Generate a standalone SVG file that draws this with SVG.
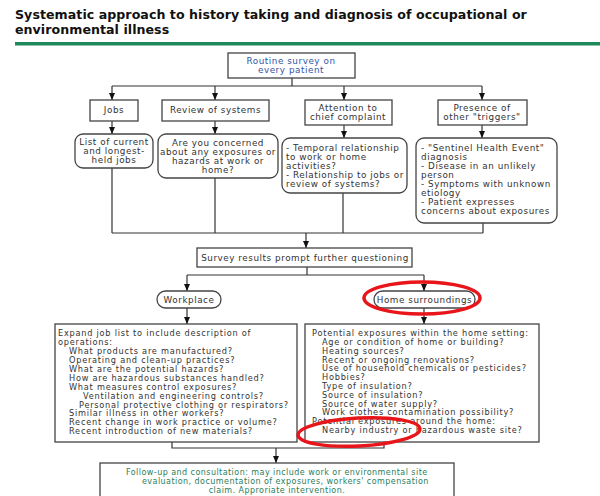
<svg xmlns="http://www.w3.org/2000/svg" width="600" height="496" viewBox="0 0 600 496">
<defs>
<marker id="ah" markerWidth="7" markerHeight="6" refX="7" refY="3" orient="auto" markerUnits="userSpaceOnUse" viewBox="0 0 7 6">
<path d="M0,0 L7,3 L0,6 Z" fill="#111"/>
</marker>
<style>
text{font-family:"DejaVu Sans","Verdana",sans-serif;fill:#333}
.t{font-size:12.6px;font-weight:bold;fill:#111;letter-spacing:0.05px}
.b{font-size:8.8px;letter-spacing:0.55px}
.s{font-size:8.2px;letter-spacing:0.76px}
.f{font-size:8px;letter-spacing:0.45px}
.c{text-anchor:middle}
.box{fill:#fff;stroke:#444;stroke-width:1.3}
.ln{fill:none;stroke:#333;stroke-width:1.2}
.red{fill:none;stroke:#e8161b;stroke-width:3.5}
.blue{fill:#3355a8}
.grn{fill:#2b7d5c}
</style>
</defs>
<rect width="600" height="496" fill="#fff"/>
<g id="title">
<text class="t" x="15" y="19">Systematic approach to history taking and diagnosis of occupational or</text>
<text class="t" x="15" y="34">environmental illness</text>
<rect x="15" y="42" width="585" height="3.5" fill="#1e8a5c"/>
</g>
<g id="connectors">
<path class="ln" d="M292,78 V86 M112,86 H482"/>
<path class="ln" d="M112,86 V100" marker-end="url(#ah)"/>
<path class="ln" d="M215,86 V100" marker-end="url(#ah)"/>
<path class="ln" d="M344,86 V100" marker-end="url(#ah)"/>
<path class="ln" d="M482,86 V100" marker-end="url(#ah)"/>
<path class="ln" d="M112,121 V134" marker-end="url(#ah)"/>
<path class="ln" d="M215,121 V134" marker-end="url(#ah)"/>
<path class="ln" d="M344,125 V138" marker-end="url(#ah)"/>
<path class="ln" d="M482,125 V138" marker-end="url(#ah)"/>
<path class="ln" d="M112,168 V233 M215,178 V233 M343,193 V233 M483,223 V233 M112,233 H483"/>
<path class="ln" d="M306,233 V248" marker-end="url(#ah)"/>
<path class="ln" d="M307,267 V275 M187,275 H424"/>
<path class="ln" d="M187,275 V291" marker-end="url(#ah)"/>
<path class="ln" d="M424,275 V291" marker-end="url(#ah)"/>
<path class="ln" d="M187,308 V324" marker-end="url(#ah)"/>
<path class="ln" d="M424,308 V324" marker-end="url(#ah)"/>
<path class="ln" d="M172,442 V448 H384 V442"/>
<path class="ln" d="M276,448 V463" marker-end="url(#ah)"/>
</g>
<g id="routine">
<rect class="box" x="228" y="53" width="127" height="25"/>
<text class="b c blue" x="291" y="64">Routine survey on</text>
<text class="b c blue" x="291" y="73">every patient</text>
</g>
<g id="jobs">
<rect class="box" x="90" y="100" width="48" height="21"/>
<text class="b c" x="114" y="113">Jobs</text>
</g>
<g id="review">
<rect class="box" x="162" y="100" width="107" height="21"/>
<text class="b c" x="215.5" y="113">Review of systems</text>
</g>
<g id="attention">
<rect class="box" x="305" y="100" width="87" height="25"/>
<text class="b c" x="348" y="111">Attention to</text>
<text class="b c" x="348" y="120">chief complaint</text>
</g>
<g id="presence">
<rect class="box" x="438" y="100" width="89" height="25"/>
<text class="b c" x="482" y="111">Presence of</text>
<text class="b c" x="482" y="120">other "triggers"</text>
</g>
<g id="list">
<rect class="box" x="75" y="134" width="78" height="34" rx="8"/>
<text class="b c" x="114" y="145">List of current</text>
<text class="b c" x="114" y="154">and longest-</text>
<text class="b c" x="114" y="163">held jobs</text>
</g>
<g id="concerned">
<rect class="box" x="158" y="134" width="120" height="44" rx="8"/>
<text class="b c" x="218" y="146">Are you concerned</text>
<text class="b c" x="218" y="155">about any exposures or</text>
<text class="b c" x="218" y="164">hazards at work or</text>
<text class="b c" x="218" y="173">home?</text>
</g>
<g id="temporal">
<rect class="box" x="282" y="138" width="125" height="55" rx="8"/>
<text class="b" x="286" y="151">- Temporal relationship</text>
<text class="b" x="286" y="160">to work or home</text>
<text class="b" x="286" y="169">activities?</text>
<text class="b" x="286" y="178">- Relationship to jobs or</text>
<text class="b" x="286" y="187">review of systems?</text>
</g>
<g id="sentinel">
<rect class="box" x="416" y="138" width="141" height="85" rx="8"/>
<text class="b" x="421" y="151">- "Sentinel Health Event"</text>
<text class="b" x="421" y="160">diagnosis</text>
<text class="b" x="421" y="169">- Disease in an unlikely</text>
<text class="b" x="421" y="178">person</text>
<text class="b" x="421" y="187">- Symptoms with unknown</text>
<text class="b" x="421" y="196">etiology</text>
<text class="b" x="421" y="205">- Patient expresses</text>
<text class="b" x="421" y="214">concerns about exposures</text>
</g>
<g id="survey">
<rect class="box" x="197" y="248" width="215" height="19"/>
<text class="b c" x="305" y="261">Survey results prompt further questioning</text>
</g>
<g id="workplace">
<rect class="box" x="157" y="291" width="64" height="17" rx="8.5"/>
<text class="b c" x="189" y="302.5">Workplace</text>
</g>
<g id="home">
<rect class="box" x="374" y="291" width="101" height="17" rx="8.5"/>
<text class="b c" x="424.5" y="302.5">Home surroundings</text>
<ellipse class="red" cx="422" cy="298" rx="58" ry="16"/>
</g>
<g id="workdetail">
<rect class="box" x="55" y="324" width="242" height="118"/>
<text class="s" x="58" y="336">Expand job list to include description of</text>
<text class="s" x="58" y="345">operations:</text>
<text class="s" x="69" y="354">What products are manufactured?</text>
<text class="s" x="69" y="363">Operating and clean-up practices?</text>
<text class="s" x="69" y="372">What are the potential hazards?</text>
<text class="s" x="69" y="381">How are hazardous substances handled?</text>
<text class="s" x="69" y="389.5">What measures control exposures?</text>
<text class="s" x="83" y="398.5">Ventilation and engineering controls?</text>
<text class="s" x="79" y="407.5">Personal protective clothing or respirators?</text>
<text class="s" x="69" y="416">Similar illness in other workers?</text>
<text class="s" x="69" y="425">Recent change in work practice or volume?</text>
<text class="s" x="69" y="434">Recent introduction of new materials?</text>
</g>
<g id="homedetail">
<rect class="box" x="305" y="324" width="234" height="118"/>
<text class="s" x="312" y="336">Potential exposures within the home setting:</text>
<text class="s" x="322" y="345">Age or condition of home or building?</text>
<text class="s" x="322" y="353.5">Heating sources?</text>
<text class="s" x="322" y="362.5">Recent or ongoing renovations?</text>
<text class="s" x="322" y="371">Use of household chemicals or pesticides?</text>
<text class="s" x="322" y="380">Hobbies?</text>
<text class="s" x="322" y="388.5">Type of insulation?</text>
<text class="s" x="322" y="397.5">Source of insulation?</text>
<text class="s" x="322" y="406.5">Source of water supply?</text>
<text class="s" x="322" y="415">Work clothes contamination possibility?</text>
<text class="s" x="312" y="424">Potential exposures around the home:</text>
<text class="s" x="322" y="433">Nearby industry or hazardous waste site?</text>
<ellipse class="red" cx="359" cy="432" rx="61" ry="14" transform="rotate(-3 359 432)"/>
</g>
<g id="followup">
<rect class="box" x="100" y="463" width="354" height="40"/>
<text class="f grn" x="126" y="475">Follow-up and consultation: may include work or environmental site</text>
<text class="f grn" x="142" y="484">evaluation, documentation of exposures, workers' compensation</text>
<text class="f grn c" x="277" y="493">claim. Approriate intervention.</text>
</g>
</svg>
